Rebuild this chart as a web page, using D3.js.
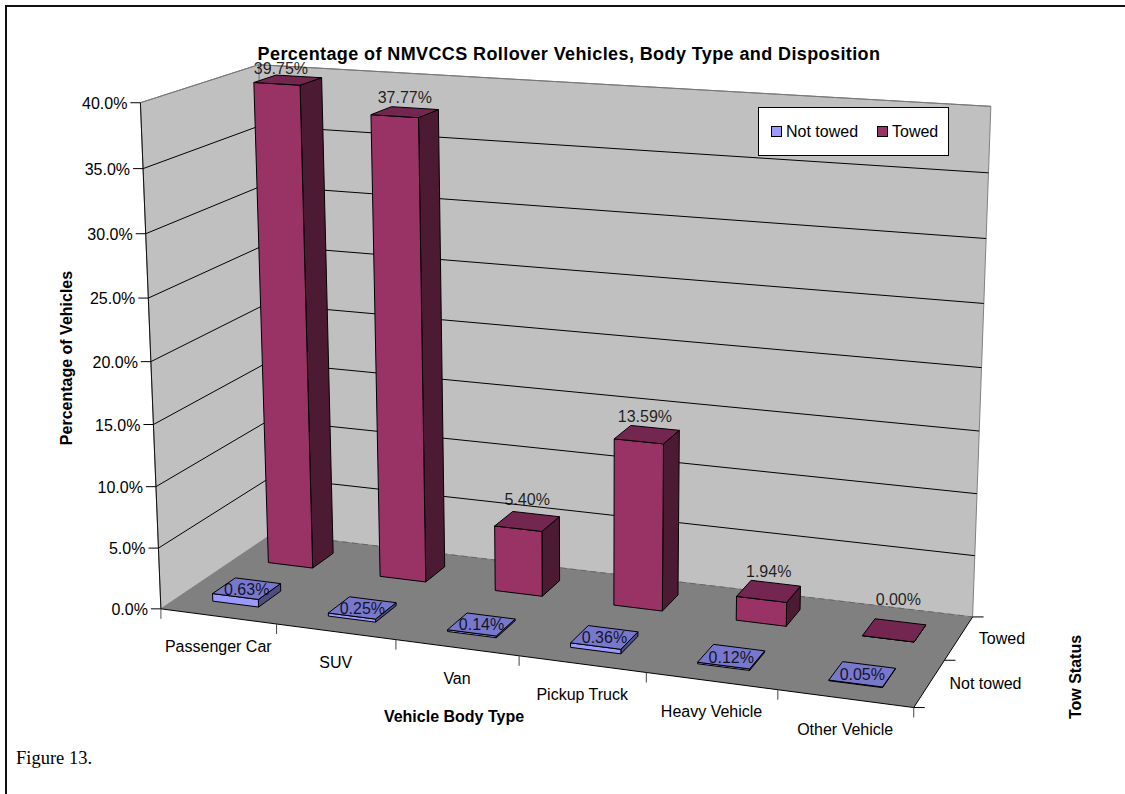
<!DOCTYPE html>
<html><head><meta charset="utf-8">
<style>html,body{margin:0;padding:0;background:#fff;overflow:hidden}svg{display:block}text{font-family:"Liberation Sans",Arial,sans-serif;fill:#000}</style>
<script src="https://cdn.jsdelivr.net/npm/d3@7"></script></head><body>
<script>
const title = "Percentage of NMVCCS Rollover Vehicles, Body Type and Disposition";
const categories = ["Passenger Car","SUV","Van","Pickup Truck","Heavy Vehicle","Other Vehicle"];
const seriesNames = ["Not towed","Towed"];
const notTowed = [0.63,0.25,0.14,0.36,0.12,0.05];
const towed = [39.75,37.77,5.40,13.59,1.94,0.00];
const yTicks = [0,5,10,15,20,25,30,35,40];

// Label placement quirks of the original chart engine, in pixels
const labelLiftTowed = [12,15,22,19,20,31];
const labelLiftNotTowed = [0,0,0,0,0,0];
const labelShiftTowed = [-7,0,0,-2,0,4];
const labelShiftNotTowed = [0,0,0,0,0,0];

// Camera calibration of the 3-D box: world (category units, depth units, percent) -> page pixels
const calibration = [
 [0,0,0,162,609],[1,0,0,277,625],[2,0,0,396,640],[3,0,0,519,657],[4,0,0,646,673],[5,0,0,777,690],[6,0,0,913,707],
 [6,1,0,945,660],[6,2,0,972,616],[0,2,0,273,533],
 [0,0,10,155,486],[0,0,20,150,361],[0,0,30,146,233],[0,0,40,142,102],
 [0,2,40,257,66],[6,2,40,991,107],[6,2,20,982,367],[6,2,10,978,494]
];
function solve(A,b){const n=b.length;const M=A.map((r,i)=>[...r,b[i]]);
 for(let i=0;i<n;i++){let p=i;for(let k=i+1;k<n;k++)if(Math.abs(M[k][i])>Math.abs(M[p][i]))p=k;[M[i],M[p]]=[M[p],M[i]];
  for(let k=i+1;k<n;k++){const f=M[k][i]/M[i][i];for(let j=i;j<=n;j++)M[k][j]-=f*M[i][j];}}
 const x=new Array(n).fill(0);for(let i=n-1;i>=0;i--){let s=M[i][n];for(let j=i+1;j<n;j++)s-=M[i][j]*x[j];x[i]=s/M[i][i];}return x;}
function fitCamera(pts){const rows=[],rhs=[];
 pts.forEach(([X,Y,Z,x,y])=>{const a=[X/6,Y/2,Z/40,1];
  rows.push([...a,0,0,0,0,...a.slice(0,3).map(v=>-v*x)]);rhs.push(x);
  rows.push([0,0,0,0,...a,...a.slice(0,3).map(v=>-v*y)]);rhs.push(y);});
 const n=11,N=d3.range(n).map(i=>d3.range(n).map(j=>d3.sum(rows,r=>r[i]*r[j]))),B=d3.range(n).map(i=>d3.sum(rows,(r,k)=>r[i]*rhs[k]));
 return solve(N,B);}
const C=fitCamera(calibration);
function proj(u,v,w){const X=u/6,Y=v/2,Z=w/40,d=C[8]*X+C[9]*Y+C[10]*Z+1;
 return [(C[0]*X+C[1]*Y+C[2]*Z+C[3])/d,(C[4]*X+C[5]*Y+C[6]*Z+C[7])/d];}

const xBand=d3.scaleBand().domain(categories).range([0,6]).paddingInner(0.6).paddingOuter(0.3);
const xStep=d3.scaleBand().domain(categories).range([0,6]);
const depthBand=d3.scaleBand().domain(seriesNames).range([0,2]).paddingInner(0.6).paddingOuter(0.3);
const depthStep=d3.scaleBand().domain(seriesNames).range([0,2]);
const yScale=d3.scaleLinear().domain([0,40]).range([0,40]);
const line=d3.line();const poly=p=>line(p)+"Z";
const pct=d3.format(".1f"), pct2=d3.format(".2f");

const svg=d3.select("body").append("svg").attr("width",1125).attr("height",794);
svg.append("path").attr("d","M6,794V6H1125").attr("fill","none").attr("stroke","#111").attr("stroke-width",2);
svg.append("text").attr("x",16).attr("y",764).style("font-family",'"Liberation Serif",serif').style("font-size","18.5px").text("Figure 13.");
svg.append("text").attr("x",569).attr("y",60).attr("text-anchor","middle").style("font-weight","bold").style("font-size","18px").style("letter-spacing","0.4px").text(title);

const g=svg.append("g");
const W=6,D=2,T=40;
g.append("path").attr("d",poly([proj(0,D,0),proj(W,D,0),proj(W,D,T),proj(0,D,T)])).attr("fill","#c0c0c0").attr("stroke","#808080");
g.append("path").attr("d",poly([proj(0,0,0),proj(0,D,0),proj(0,D,T),proj(0,0,T)])).attr("fill","#c0c0c0").attr("stroke","#808080");
g.append("path").attr("d",poly([proj(0,0,0),proj(W,0,0),proj(W,D,0),proj(0,D,0)])).attr("fill","#808080");
g.append("path").attr("d",line([proj(0,D,0),proj(W,D,0)])).attr("stroke","#666").attr("stroke-dasharray","6,4").attr("fill","none");
g.append("path").attr("d",line([proj(0,0,0),proj(W,0,0),proj(W,D,0)])).attr("stroke","#000").attr("fill","none");
yTicks.forEach(t=>{const w=yScale(t);
 if(t>0){g.append("path").attr("d",line([proj(0,0,w),proj(0,D,w),proj(W,D,w)])).attr("fill","none").attr("stroke",t===40?"#777":"#000");}
 const p=proj(0,0,w);
 g.append("line").attr("x1",p[0]-10).attr("x2",p[0]).attr("y1",p[1]).attr("y2",p[1]).attr("stroke","#000");
 g.append("text").attr("x",p[0]-13).attr("y",p[1]+6).attr("text-anchor","end").style("font-size","16px").text(pct(t)+"%");
});
g.append("path").attr("d",line([proj(0,0,T),proj(0,0,0)])).attr("stroke","#111").attr("fill","none");
{const p=proj(0,0,0);g.append("line").attr("x1",p[0]).attr("x2",p[0]).attr("y1",p[1]).attr("y2",p[1]+10).attr("stroke","#555");}
d3.range(1,7).forEach(i=>{const p=proj(i,0,0);g.append("line").attr("x1",p[0]).attr("x2",p[0]).attr("y1",p[1]).attr("y2",p[1]+10).attr("stroke","#444");});
categories.forEach(c=>{const u=xStep(c)+xStep.bandwidth()/2,p=proj(u,0,0);
 g.append("text").attr("x",p[0]).attr("y",p[1]+36).attr("text-anchor","middle").style("font-size","16px").text(c);});
[0,1,2].forEach(v=>{const p=proj(W,v,0);g.append("line").attr("x1",p[0]).attr("x2",p[0]+11).attr("y1",p[1]).attr("y2",p[1]).attr("stroke","#000");});
seriesNames.forEach(s=>{const v=depthStep(s)+depthStep.bandwidth()/2,p=proj(W,v,0);
 g.append("text").attr("x",p[0]+20).attr("y",p[1]+6).style("font-size","16px").text(s);});

const palette={"Not towed":{front:"#9999ff",top:"#7777cc",side:"#4d4d80"},"Towed":{front:"#993366",top:"#732650",side:"#4d1a33"}};
const rows=[{name:"Towed",vals:towed,lift:labelLiftTowed,shift:labelShiftTowed},{name:"Not towed",vals:notTowed,lift:labelLiftNotTowed,shift:labelShiftNotTowed}];
const bars=g.append("g"), labels=g.append("g");
rows.forEach(r=>{
 const pal=palette[r.name],v0=depthBand(r.name),v1=v0+depthBand.bandwidth();
 categories.forEach((c,i)=>{
  const u0=xBand(c),u1=u0+xBand.bandwidth(),h=yScale(r.vals[i]);
  const bg=bars.append("g").attr("stroke","#000").attr("stroke-linejoin","round");
  bg.append("path").attr("d",poly([proj(u1,v0,0),proj(u1,v1,0),proj(u1,v1,h),proj(u1,v0,h)])).attr("fill",pal.side);
  bg.append("path").attr("d",poly([proj(u0,v0,0),proj(u1,v0,0),proj(u1,v0,h),proj(u0,v0,h)])).attr("fill",pal.front);
  bg.append("path").attr("d",poly([proj(u0,v0,h),proj(u1,v0,h),proj(u1,v1,h),proj(u0,v1,h)])).attr("fill",pal.top);
  const p=proj((u0+u1)/2,(v0+v1)/2,h);
  labels.append("text").attr("x",p[0]+r.shift[i]).attr("y",p[1]-r.lift[i]+6).attr("text-anchor","middle").style("font-size","16px").attr("fill-opacity",.85).text(pct2(r.vals[i])+"%");
 });
});
svg.append("text").attr("transform","translate(72,358) rotate(-90)").attr("text-anchor","middle").style("font-weight","bold").style("font-size","16px").text("Percentage of Vehicles");
svg.append("text").attr("x",454).attr("y",722).attr("text-anchor","middle").style("font-weight","bold").style("font-size","16px").text("Vehicle Body Type");
svg.append("text").attr("transform","translate(1081,677) rotate(-90)").attr("text-anchor","middle").style("font-weight","bold").style("font-size","16px").text("Tow Status");
const lg=svg.append("g");
lg.append("rect").attr("x",758.5).attr("y",107.5).attr("width",190).attr("height",48).attr("fill","#fff").attr("stroke","#000");
const lgX=d3.scalePoint().domain(seriesNames).range([771,877]);
seriesNames.forEach(s=>{const x=lgX(s);
 lg.append("rect").attr("x",x+.5).attr("y",126.5).attr("width",10).attr("height",10).attr("fill",palette[s].front).attr("stroke","#000");
 lg.append("text").attr("x",x+15).attr("y",137).style("font-size","16px").text(s);});
</script></body></html>
